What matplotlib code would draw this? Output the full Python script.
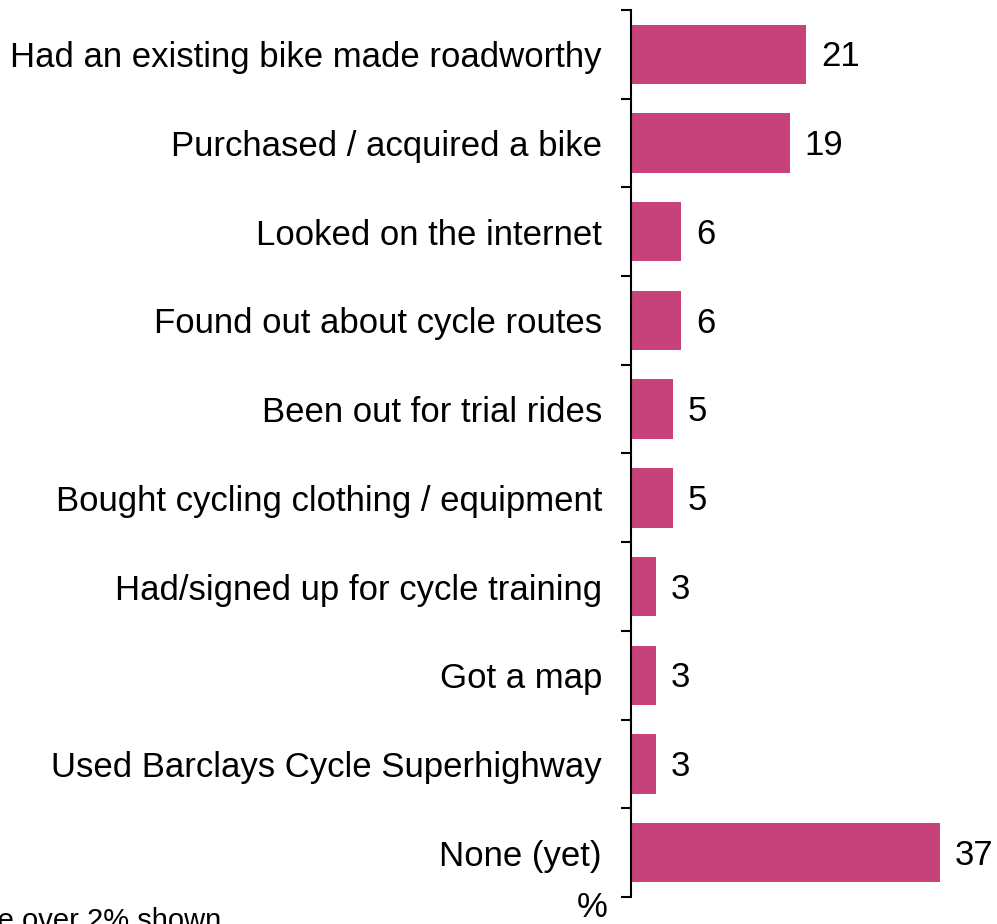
import matplotlib
matplotlib.use('Agg')
import matplotlib.pyplot as plt
import numpy as np

categories = [
    "Had an existing bike made roadworthy",
    "Purchased / acquired a bike",
    "Looked on the internet",
    "Found out about cycle routes",
    "Been out for trial rides",
    "Bought cycling clothing / equipment",
    "Had/signed up for cycle training",
    "Got a map",
    "Used Barclays Cycle Superhighway",
    "None (yet)",
]
values = [21, 19, 6, 6, 5, 5, 3, 3, 3, 37]

plt.rcParams['font.family'] = ['Liberation Sans', 'DejaVu Sans']

fig = plt.figure(figsize=(9.97, 9.24), dpi=100)
ax = fig.add_axes([0.633, 0.0292, 0.36, 0.9600])

y = np.arange(len(categories))
ax.barh(y, values, height=0.67, color='#C7427A')
for yi, v in zip(y, values):
    ax.text(v + 1.8, yi + 0.03, str(v), va='center', ha='left', fontsize=25)

ax.set_ylim(len(categories) - 0.5, -0.5)
ax.set_xlim(0, 43)
ax.set_yticks(y)
ax.set_yticklabels(categories, fontsize=25)
ax.tick_params(axis='y', which='major', length=0, pad=21)
ax.set_yticks(np.arange(-0.5, len(categories), 1.0), minor=True)
ax.tick_params(axis='y', which='minor', length=7, width=1.5, direction='out')
ax.set_xticks([])
for s in ['top', 'right', 'bottom']:
    ax.spines[s].set_visible(False)
ax.spines['left'].set_linewidth(1.5)

fig.text(0.594, 0.0076, "%", ha='center', va='baseline', fontsize=25)
# footnote runs off the bottom-left edge, as in the source image
fig.text(0.222, -0.005, "Those over 2% shown", ha='right', va='baseline', fontsize=21)

fig.savefig('out.png', dpi=100)
